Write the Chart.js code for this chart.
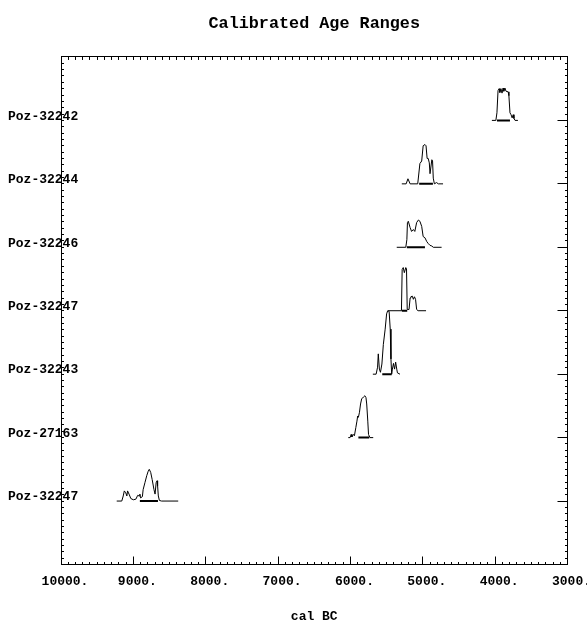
<!DOCTYPE html>
<html>
<head>
<meta charset="utf-8">
<script src="https://cdn.jsdelivr.net/npm/chart.js@4.4.0/dist/chart.umd.min.js"></script>
<style>
  html, body { margin: 0; padding: 0; background: #fff; }
</style>
</head>
<body>
<canvas id="chart" width="587" height="623"></canvas>
<script>
// Muestras (de arriba a abajo)
const sampleNames = ["Poz-32242", "Poz-32244", "Poz-32246", "Poz-32247", "Poz-32243", "Poz-27163", "Poz-32247"];

// Distribuciones calibradas: años cal BC y altura relativa
const years1 = [4045, 3990, 3975, 3960, 3945, 3935, 3920, 3905, 3890, 3880, 3865, 3850, 3820, 3810, 3795, 3780, 3765, 3750, 3740, 3725, 3685];
const prob1  = [0, 0, 0.12, 0.47, 0.5, 0.44, 0.5, 0.43, 0.51, 0.46, 0.51, 0.46, 0.45, 0.39, 0.12, 0.09, 0.04, 0.09, 0.03, 0, 0];

const years2 = [5290, 5230, 5205, 5175, 5070, 5040, 5015, 4995, 4970, 4955, 4940, 4925, 4910, 4900, 4875, 4865, 4855, 4840, 4810, 4785, 4720];
const prob2  = [0, 0, 0.08, 0, 0, 0.32, 0.36, 0.6, 0.62, 0.6, 0.4, 0.4, 0.33, 0.16, 0.38, 0.36, 0.09, 0, 0.02, 0, 0];

const years3 = [5360, 5235, 5220, 5212, 5200, 5175, 5155, 5130, 5110, 5085, 5060, 5040, 5015, 4995, 4970, 4945, 4925, 4900, 4875, 4855, 4740];
const prob3  = [0, 0, 0.12, 0.39, 0.41, 0.31, 0.25, 0.28, 0.25, 0.39, 0.43, 0.41, 0.33, 0.17, 0.15, 0.09, 0.06, 0.03, 0.02, 0, 0];

const years4 = [5480, 5295, 5285, 5270, 5255, 5235, 5225, 5215, 5190, 5175, 5165, 5145, 5130, 5115, 5100, 5085, 5065, 4955];
const prob4  = [0, 0, 0.65, 0.68, 0.6, 0.68, 0.66, 0.02, 0.02, 0.2, 0.22, 0.23, 0.18, 0.22, 0.18, 0.02, 0, 0];

const years5 = [5690, 5645, 5625, 5615, 5600, 5585, 5565, 5545, 5520, 5500, 5485, 5465, 5450, 5440, 5430, 5420, 5405, 5390, 5375, 5360, 5350, 5315];
const prob5  = [0, 0, 0.11, 0.32, 0.08, 0.03, 0.16, 0.47, 0.71, 0.95, 1.0, 0.99, 0.71, 0.24, 0, 0.08, 0.17, 0.08, 0.19, 0.08, 0.02, 0];

const years6 = [6030, 6005, 5990, 5980, 5960, 5945, 5925, 5910, 5900, 5890, 5875, 5860, 5845, 5820, 5800, 5785, 5775, 5760, 5750, 5730, 5685];
const prob6  = [0, 0, 0.05, 0.01, 0.05, 0.03, 0.16, 0.26, 0.34, 0.32, 0.4, 0.53, 0.61, 0.64, 0.66, 0.63, 0.53, 0.26, 0.05, 0, 0];

const years7 = [9230, 9160, 9140, 9125, 9105, 9090, 9080, 9060, 9035, 9000, 8965, 8940, 8920, 8910, 8900, 8875, 8865, 8840, 8815, 8795, 8780, 8760, 8740, 8715, 8700, 8685, 8672, 8665, 8655, 8640, 8610, 8380];
const prob7  = [0, 0, 0.08, 0.16, 0.13, 0.08, 0.16, 0.11, 0.04, 0.02, 0.03, 0.09, 0.08, 0.11, 0.05, 0.07, 0.18, 0.29, 0.4, 0.47, 0.5, 0.45, 0.34, 0.18, 0.11, 0.29, 0.32, 0.24, 0.08, 0.01, 0, 0];

// Rangos (barra gruesa sobre la línea base)
const rangeFrom = [3975, 5050, 5220, 5290, 5560, 5890, 8910];
const rangeTo   = [3795, 4860, 4970, 5215, 5430, 5740, 8660];

// Eje X
const xMin = 3000;
const xMax = 10000;

const monoFont = '"Liberation Mono", "Courier New", monospace';

const allYears = [years1, years2, years3, years4, years5, years6, years7];
const allProbs = [prob1, prob2, prob3, prob4, prob5, prob6, prob7];

// Construir datasets: cada fila tiene su línea base en y = fila
const datasets = [];
allYears.forEach((ys, i) => {
  const row = i + 1;
  datasets.push({
    data: ys.map((yr, j) => ({ x: yr, y: row - allProbs[i][j] })),
    showLine: true,
    borderColor: "#000",
    borderWidth: 1,
    pointRadius: 0,
    tension: 0
  });
  datasets.push({
    data: [{ x: rangeFrom[i], y: row }, { x: rangeTo[i], y: row }],
    showLine: true,
    borderColor: "#000",
    borderWidth: 2,
    pointRadius: 0
  });
});

const isThousand = v => Math.abs(v % 1000) < 1e-6;
const isInt = v => Math.abs(v - Math.round(v)) < 1e-6;

new Chart(document.getElementById("chart"), {
  type: "scatter",
  data: { datasets },
  options: {
    responsive: false,
    animation: false,
    layout: { padding: 0 },
    plugins: {
      legend: { display: false },
      tooltip: { enabled: false },
      title: {
        display: true,
        fullSize: false,
        text: "Calibrated Age Ranges",
        color: "#000",
        font: { family: monoFont, size: 16.8, weight: "bold" },
        padding: { top: 14, bottom: 0 }
      }
    },
    scales: {
      x: {
        type: "linear",
        position: "bottom",
        min: xMin,
        max: xMax,
        reverse: true,
        ticks: {
          stepSize: 100,
          autoSkip: false,
          maxTicksLimit: 200,
          maxRotation: 0,
          padding: 17,
          labelOffset: 4,
          color: "#000",
          font: { family: monoFont, size: 13, weight: "bold" },
          callback: v => isThousand(v) ? v + "." : ""
        },
        grid: {
          drawOnChartArea: false,
          tickLength: -8,
          tickColor: "#000",
          tickWidth: 1,
          tickBorderDash: ctx => (ctx.tick && isThousand(ctx.tick.value)) ? [] : [3, 40]
        },
        border: { color: "#000", width: 1 },
        title: {
          display: true,
          text: "cal BC",
          color: "#000",
          font: { family: monoFont, size: 13, weight: "bold" },
          padding: { top: 0, bottom: -2 }
        },
        afterFit: s => { s.height = 58.5; s.paddingLeft = 0; s.paddingRight = 0; }
      },
      xTop: {
        type: "linear",
        position: "top",
        min: xMin,
        max: xMax,
        reverse: true,
        ticks: { stepSize: 100, autoSkip: false, maxTicksLimit: 200, callback: () => "" },
        grid: { drawOnChartArea: false, tickLength: -3, tickColor: "#000", tickWidth: 1 },
        border: { color: "#000", width: 1 },
        afterFit: s => { s.height = 22.8; s.paddingLeft = 0; s.paddingRight = 0; }
      },
      y: {
        type: "linear",
        position: "left",
        min: 0,
        max: 8,
        reverse: true,
        ticks: {
          stepSize: 0.1,
          autoSkip: false,
          maxTicksLimit: 200,
          mirror: true,
          padding: -53,
          labelOffset: -4,
          color: "#000",
          font: { family: monoFont, size: 13, weight: "bold" },
          callback: v => (isInt(v) && v >= 1 && v <= sampleNames.length) ? sampleNames[Math.round(v) - 1] : ""
        },
        grid: { drawOnChartArea: false, tickLength: -3, tickColor: "#000", tickWidth: 1 },
        border: { color: "#000", width: 1 },
        afterFit: s => { s.width = 61; s.paddingTop = 0; s.paddingBottom = 0; }
      },
      yRight: {
        type: "linear",
        position: "right",
        min: 0,
        max: 8,
        reverse: true,
        ticks: { stepSize: 0.1, autoSkip: false, maxTicksLimit: 200, callback: () => "" },
        grid: {
          drawOnChartArea: false,
          tickLength: -10,
          tickColor: "#000",
          tickWidth: 1,
          tickBorderDash: ctx => (ctx.tick && isInt(ctx.tick.value) && ctx.tick.value > 0 && ctx.tick.value < 8) ? [] : [3, 40]
        },
        border: { color: "#000", width: 1 },
        afterFit: s => { s.width = 19.5; s.paddingTop = 0; s.paddingBottom = 0; }
      }
    }
  }
});
</script>
</body>
</html>
